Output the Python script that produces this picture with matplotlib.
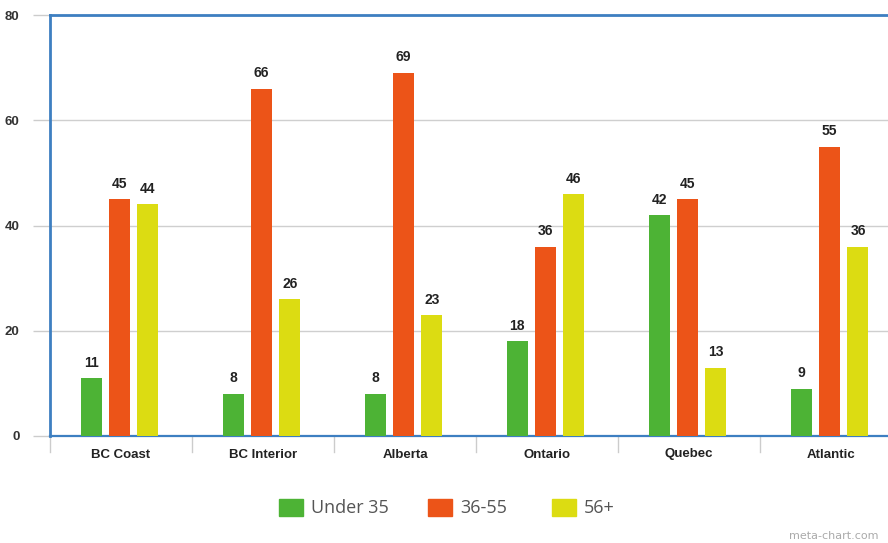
import numpy as np
import matplotlib.pyplot as plt
from matplotlib.patches import Rectangle

regions = ['BC Coast', 'BC Interior', 'Alberta', 'Ontario', 'Quebec', 'Atlantic']
series = ['Under 35', '36-55', '56+']
under_35 = [11, 8, 8, 18, 42, 9]
age_36_55 = [45, 66, 69, 36, 45, 55]
age_56_plus = [44, 26, 23, 46, 13, 36]
colors = ['#4db335', '#ec5418', '#dcdc12']

fig = plt.figure(figsize=(8.88, 5.43), dpi=100)
ax = fig.add_axes([50 / 888, 1 - 436 / 543, 852 / 888, 421 / 543])

x = np.arange(len(regions))
width = 0.148
step = 0.2
for i, (vals, col) in enumerate(zip([under_35, age_36_55, age_56_plus], colors)):
    pos = x + (i - 1) * step - 0.01
    ax.bar(pos, vals, width, color=col, zorder=3)
    for px, v in zip(pos, vals):
        ax.text(px, v + 1.6, str(v), ha='center', va='bottom', fontsize=10,
                fontweight='bold', color='#222222', family='Liberation Sans', zorder=4)

ax.set_xlim(-0.5, len(regions) - 0.5)
ax.set_ylim(0, 80)
ax.set_yticks([0, 20, 40, 60, 80])
ax.yaxis.grid(True, color='#cfcfcf', linewidth=1, zorder=0)
for s in ['left', 'top', 'bottom']:
    ax.spines[s].set_color('#3d7fc1')
    ax.spines[s].set_linewidth(2)
ax.spines['bottom'].set_linewidth(1.6)
ax.spines['right'].set_visible(False)

ax.tick_params(axis='y', length=12, width=1, color='#cccccc', pad=10,
               labelsize=9.5, labelcolor='#333333')
for lab in ax.get_yticklabels():
    lab.set_fontweight('bold')
    lab.set_family('Liberation Sans')

ax.set_xticks(x)
ax.set_xticklabels(regions, fontsize=9.5, fontweight='bold', color='#222222',
                   family='Liberation Sans')
ax.tick_params(axis='x', length=0, pad=9)
# category separators below the axis
for b in np.arange(-0.5, len(regions), 1.0):
    ax.plot([b, b], [0, -3], color='#cccccc', linewidth=1, clip_on=False, zorder=1)

# legend
lx = [279, 428, 552]
for px, lab, col in zip(lx, series, colors):
    fig.patches.append(Rectangle((px / 888, 1 - 516 / 543), 24 / 888, 17 / 543,
                                 transform=fig.transFigure, color=col))
    fig.text((px + 32) / 888, 1 - 508 / 543, lab, fontsize=13, color='#555555',
             va='center', ha='left', family='Open Sans')

fig.text(789 / 888, 1 - 536 / 543, 'meta-chart.com', fontsize=8, color='#aaaaaa',
         va='center', ha='left')

fig.savefig('out.png', dpi=100)
